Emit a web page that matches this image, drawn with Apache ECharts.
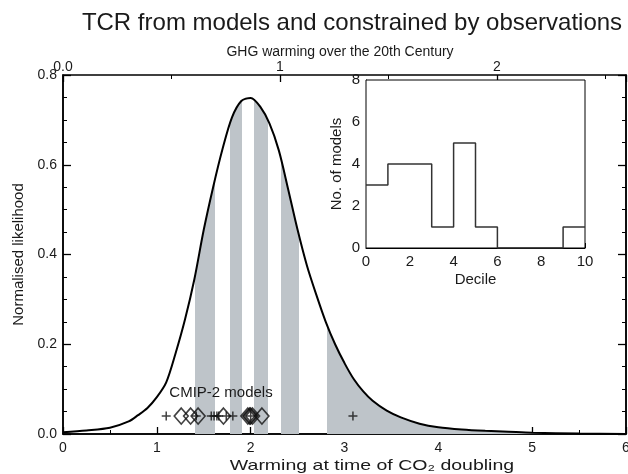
<!DOCTYPE html>
<html><head><meta charset="utf-8">
<script src="https://cdn.jsdelivr.net/npm/echarts@6/dist/echarts.min.js"></script>
<style>html,body{margin:0;padding:0;background:#fff}#c{width:628px;height:474px}</style>
</head><body><div id="c"></div>
<script>
// ---- data ----
const curveX = [0,0.25,0.5,0.7,0.8,0.9,1.0,1.1,1.2,1.3,1.4,1.5,1.6,1.7,1.8,1.9,2.0,2.1,2.2,2.3,2.4,2.5,2.6,2.7,2.8,2.9,3.0,3.1,3.2,3.3,3.45,3.6,3.8,4.0,4.25,4.5,4.75,5.0,5.5,6.0];
const curveY = [0.004,0.008,0.014,0.028,0.042,0.058,0.082,0.115,0.18,0.255,0.345,0.455,0.55,0.635,0.705,0.742,0.749,0.73,0.692,0.632,0.545,0.455,0.375,0.31,0.25,0.2,0.158,0.122,0.095,0.074,0.052,0.037,0.023,0.015,0.01,0.007,0.005,0.003,0.001,0.0];
const decileBounds = [1.41,1.62,1.78,1.91,2.04,2.18,2.32,2.51,2.81];
const diamondModels = [1.26,1.36,1.44,1.71,1.97,1.99,2.00,2.02,2.12];
const plusModels = [1.10,1.42,1.58,1.61,1.64,1.66,1.74,1.81,2.00,3.09];
const modelRowY = 0.04;
const decileCounts = [3,4,4,1,5,1,0,0,0,1];
const xTickLabels = ['0','1','2','3','4','5','6'];
const yTickLabels = ['0.0','0.2','0.4','0.6','0.8'];
const topTickLabels = ['0.0','1','2'];
const ghgPerTcr = 0.4324;

// ---- chart ----
const FONT = 'Liberation Sans, Arial, Helvetica, sans-serif';
const TXT = '#1a1a1a';
const GRAY = '#bec4c9';
const chart = echarts.init(document.getElementById('c'), null, {renderer:'canvas'});

const curve = curveX.map((x,i)=>[x, curveY[i]]);
const edges = [0].concat(decileBounds, [6]);
const pieces = [];
for (let i=0;i<edges.length-1;i++){
  const p = {gte: edges[i], color: (i%2===1)? GRAY : 'rgba(255,255,255,0)'};
  if (i < edges.length-2) p.lt = edges[i+1];
  pieces.push(p);
}
const histData = decileCounts.map((c,i)=>[i,c]).concat([[decileCounts.length, decileCounts[decileCounts.length-1]]]);

const lineAx = {show:true, onZero:false, lineStyle:{color:'#000', width:1.5}};
const thinAx = {show:true, onZero:false, lineStyle:{color:'#000', width:1}};
const option = {
  backgroundColor:'#fff',
  animation:false,
  textStyle:{fontFamily:FONT},
  graphic:[
    {type:'text', x:352, y:23, style:{text:'TCR from models and constrained by observations', font:'24px '+FONT, fill:TXT, align:'center', verticalAlign:'middle'}},
    {type:'text', x:340, y:52, style:{text:'GHG warming over the 20th Century', font:'14px '+FONT, fill:TXT, align:'center', verticalAlign:'middle'}},
    {type:'text', x:221, y:393, style:{text:'CMIP-2 models', font:'15px '+FONT, fill:TXT, align:'center', verticalAlign:'middle'}, z:20},
    {type:'text', x:372, y:466, scaleX:1.3, style:{text:'Warming at time of CO\u2082 doubling', font:'15px '+FONT, fill:TXT, align:'center', verticalAlign:'middle'}}
  ],
  grid:[
    {left:63, right:2, top:75, bottom:40, show:true, borderColor:'#000', borderWidth:1.5, backgroundColor:'transparent', containLabel:false, outerBoundsMode:'none'},
    {left:366, right:43, top:80, height:168, show:true, borderColor:'#000', borderWidth:1, backgroundColor:'#fff', containLabel:false, outerBoundsMode:'none', z:10}
  ],
  xAxis:[
    {gridIndex:0, type:'value', min:0, max:6, interval:1, position:'bottom',
     axisLine:lineAx, axisTick:{show:true, inside:true, length:7, lineStyle:{color:'#000', width:1.3}},
     minorTick:{show:true, splitNumber:2, length:4, lineStyle:{color:'#000', width:1}},
     splitLine:{show:false}, minorSplitLine:{show:false},
     axisLabel:{fontSize:14, color:TXT, margin:7, formatter:(v)=>xTickLabels[Math.round(v)]}},
    {gridIndex:0, type:'value', min:0, max:6*ghgPerTcr, interval:1, position:'top',
     axisLine:{show:false, onZero:false}, axisTick:{show:true, inside:true, length:7, lineStyle:{color:'#000', width:1.3}},
     minorTick:{show:true, splitNumber:2, length:4, lineStyle:{color:'#000', width:1}},
     splitLine:{show:false}, minorSplitLine:{show:false},
     axisLabel:{fontSize:14, color:TXT, margin:1, showMaxLabel:false, formatter:(v)=>{const i=Math.round(v); return topTickLabels[i]!==undefined? topTickLabels[i]:'';}}},
    {gridIndex:1, type:'value', min:0, max:10, interval:2, position:'bottom',
     axisLine:thinAx, axisTick:{show:true, inside:true, length:5, lineStyle:{color:'#000'}},
     minorTick:{show:true, splitNumber:2, length:3, lineStyle:{color:'#000'}},
     splitLine:{show:false}, minorSplitLine:{show:false},
     axisLabel:{fontSize:15, color:TXT, margin:6},
     name:'Decile', nameLocation:'middle', nameGap:24, nameTextStyle:{fontSize:15, color:TXT}}
  ],
  yAxis:[
    {gridIndex:0, type:'value', min:0, max:0.8, interval:0.2, position:'left',
     axisLine:lineAx, axisTick:{show:true, inside:true, length:8, lineStyle:{color:'#000', width:1.3}},
     minorTick:{show:true, splitNumber:4, length:4, lineStyle:{color:'#000', width:1}},
     splitLine:{show:false}, minorSplitLine:{show:false},
     axisLabel:{fontSize:14, color:TXT, margin:6, formatter:(v)=>yTickLabels[Math.round(v*5)]},
     name:'Normalised likelihood', nameLocation:'middle', nameGap:36, nameRotate:90,
     nameTextStyle:{fontSize:15, color:TXT}},
    {gridIndex:0, type:'value', min:0, max:0.8, interval:0.2, position:'right',
     axisLine:lineAx, axisTick:{show:true, inside:true, length:8, lineStyle:{color:'#000', width:1.3}},
     minorTick:{show:true, splitNumber:4, length:4, lineStyle:{color:'#000', width:1}},
     splitLine:{show:false}, minorSplitLine:{show:false}, axisLabel:{show:false}},
    {gridIndex:1, type:'value', min:0, max:8, interval:2, position:'left',
     axisLine:thinAx, axisTick:{show:true, inside:true, length:5, lineStyle:{color:'#000'}},
     minorTick:{show:true, splitNumber:2, length:3, lineStyle:{color:'#000'}},
     splitLine:{show:false}, minorSplitLine:{show:false},
     axisLabel:{fontSize:15, color:TXT, margin:6},
     name:'No. of models', nameLocation:'middle', nameGap:22, nameRotate:90, nameTextStyle:{fontSize:15, color:TXT}}
  ],
  visualMap:[{type:'piecewise', show:false, dimension:0, seriesIndex:0, pieces:pieces}],
  series:[
    {name:'shade', type:'line', xAxisIndex:0, yAxisIndex:0, data:curve, smooth:0.3,
     showSymbol:false, symbol:'none', lineStyle:{width:0, opacity:0}, areaStyle:{opacity:1}, z:1, silent:true},
    {name:'likelihood', type:'line', xAxisIndex:0, yAxisIndex:0, data:curve, smooth:0.3,
     showSymbol:false, symbol:'none', lineStyle:{color:'#000', width:2}, itemStyle:{color:'#000'}, z:3, silent:true},
    {name:'diamonds', type:'scatter', xAxisIndex:0, yAxisIndex:0, data:diamondModels.map(x=>[x, modelRowY]),
     symbol:'diamond', symbolSize:[14,16], itemStyle:{color:'rgba(0,0,0,0)', borderColor:'#111', borderWidth:1.6}, z:4, silent:true},
    {name:'pluses', type:'scatter', xAxisIndex:0, yAxisIndex:0, data:plusModels.map(x=>[x, modelRowY]),
     symbol:'path://M5,0L5,10M0,5L10,5', symbolSize:9, itemStyle:{color:'rgba(0,0,0,0)', borderColor:'#111', borderWidth:1.5}, z:4, silent:true},
    {name:'hist', type:'line', xAxisIndex:2, yAxisIndex:2, data:histData, step:'end', showSymbol:false, symbol:'none',
     lineStyle:{color:'#333', width:1.5}, z:12, silent:true}
  ]
};
chart.setOption(option);
</script></body></html>
